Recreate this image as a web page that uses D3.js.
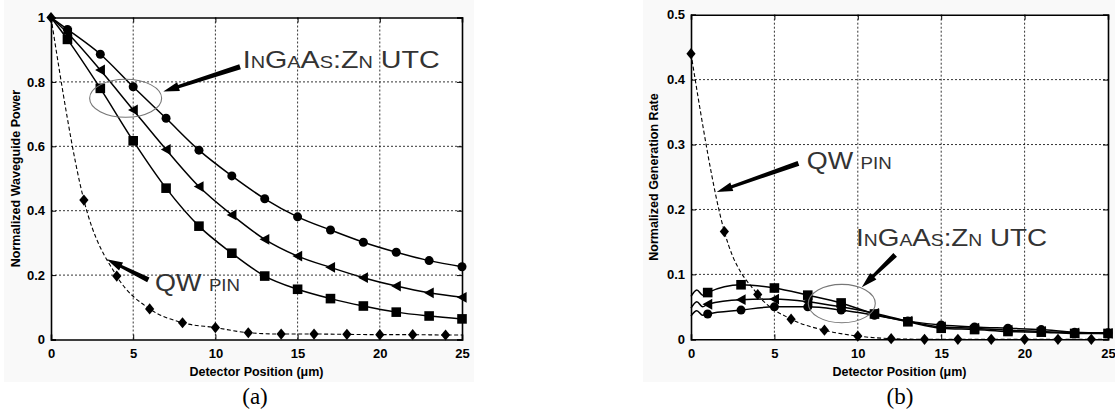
<!DOCTYPE html>
<html>
<head>
<meta charset="utf-8">
<script src="https://cdn.jsdelivr.net/npm/d3@7"></script>
<style>
  body { margin: 0; background: #fff; }
  svg { display: block; }
</style>
</head>
<body>
<svg id="fig" width="1115" height="414"></svg>
<script>
// -------------------------------------------------------------
// Data
// -------------------------------------------------------------
// (a) normalized waveguide power
const posA = [0, 1, 3, 5, 7, 9, 11, 13, 15, 17, 19, 21, 23, 25];
const utcCircleA = [1, 0.963, 0.886, 0.785, 0.687, 0.588, 0.508, 0.437, 0.381, 0.340, 0.302, 0.271, 0.245, 0.226];
const utcTriangleA = [1, 0.952, 0.837, 0.713, 0.590, 0.475, 0.387, 0.311, 0.259, 0.224, 0.192, 0.166, 0.145, 0.131];
const utcSquareA = [1, 0.932, 0.780, 0.617, 0.470, 0.352, 0.268, 0.197, 0.156, 0.127, 0.104, 0.085, 0.073, 0.064];

const posQW = [0, 2, 4, 6, 8, 10, 12, 14, 16, 18, 20, 22, 24, 25];
const qwPinA = [1, 0.433, 0.197, 0.095, 0.052, 0.037, 0.021, 0.017, 0.017, 0.016, 0.015, 0.015, 0.014, 0.014];

// (b) normalized generation rate
const posB = [0, 0.35, 0.7, 1, 3, 5, 7, 9, 11, 13, 15, 17, 19, 21, 23, 25];
const utcSquareB = [0.066, 0.076, 0.068, 0.072, 0.084, 0.079, 0.068, 0.056, 0.039, 0.027, 0.017, 0.015, 0.012, 0.011, 0.009, 0.009];
const utcTriangleB = [0.048, 0.058, 0.050, 0.054, 0.061, 0.062, 0.058, 0.050, 0.040, 0.028, 0.019, 0.017, 0.014, 0.012, 0.010, 0.009];
const utcCircleB = [0.036, 0.044, 0.037, 0.039, 0.045, 0.050, 0.050, 0.045, 0.037, 0.028, 0.022, 0.019, 0.017, 0.015, 0.011, 0.010];
const qwPinB = [0.44, 0.166, 0.069, 0.031, 0.014, 0.005, 0.001, 0, 0, 0, 0, 0, 0, 0];

const xTicks = [0, 5, 10, 15, 20, 25];
const yTicksA = [0, 0.2, 0.4, 0.6, 0.8, 1];
const yTicksB = [0, 0.1, 0.2, 0.3, 0.4, 0.5];

// -------------------------------------------------------------
// Panel configs
// -------------------------------------------------------------
const PANELS = [
  {
    id: "a",
    left: 51, right: 462, top: 17.5, bottom: 339.5,
    yMax: 1, yTicks: yTicksA,
    yLabel: "Normalized Waveguide Power",
    yLabelX: 16,
    tag: "(a)", tagX: 255,
    bg: [4, 0, 470, 382],
    series: [
      { pos: posA, vals: utcCircleA, marker: "circle", dashed: false },
      { pos: posA, vals: utcTriangleA, marker: "triangle", dashed: false },
      { pos: posA, vals: utcSquareA, marker: "square", dashed: false },
      { pos: posQW, vals: qwPinA, marker: "diamond", dashed: true }
    ],
    notes: [
      { text: "InGaAs:Zn UTC", x: 11.66, y: 0.843, width: 197, tail: [11.5, 0.847], tip: [6.83, 0.770] },
      { text: "QW pin", x: 6.33, y: 0.152, width: 85, tail: [5.92, 0.185], tip: [3.39, 0.249] }
    ],
    ellipse: { cx: 4.54, cy: 0.749, rx: 36, ry: 19 }
  },
  {
    id: "b",
    left: 691, right: 1108, top: 14.7, bottom: 339.3,
    yMax: 0.5, yTicks: yTicksB,
    yLabel: "Normalized Generation Rate",
    yLabelX: 654,
    tag: "(b)", tagX: 900,
    bg: [643, 0, 472, 382],
    series: [
      { pos: posB, vals: utcSquareB, marker: "square", dashed: false },
      { pos: posB, vals: utcTriangleB, marker: "triangle", dashed: false },
      { pos: posB, vals: utcCircleB, marker: "circle", dashed: false },
      { pos: posQW, vals: qwPinB, marker: "diamond", dashed: true }
    ],
    notes: [
      { text: "QW pin", x: 6.94, y: 0.263, width: 85, tail: [6.44, 0.271], tip: [1.54, 0.227] },
      { text: "InGaAs:Zn UTC", x: 9.9, y: 0.1437, width: 191, tail: [12.24, 0.130], tip: [10.24, 0.080] }
    ],
    ellipse: { cx: 9.04, cy: 0.0551, rx: 33.5, ry: 19.2 }
  }
];

// -------------------------------------------------------------
// Helpers
// -------------------------------------------------------------
function markerPath(type) {
  if (type === "circle") return "M4.5,0A4.5,4.5 0 1,1 -4.5,0A4.5,4.5 0 1,1 4.5,0Z";
  if (type === "square") return "M-4.8,-4.8H4.8V4.8H-4.8Z";
  if (type === "triangle") return "M-5.2,0L4.6,-5.4L4.6,5.4Z";
  return "M0,-5.6L4.6,0L0,5.6L-4.6,0Z"; // diamond
}

function tickFmt(d) {
  if (d === 0) return "0";
  if (d === 1) return "1";
  return d3.format(".1f")(d);
}

// thick wedge-style arrow from tail to tip (pixel coords)
function arrowPath(t, p) {
  const dx = p[0] - t[0], dy = p[1] - t[1];
  const len = Math.hypot(dx, dy);
  const ux = dx / len, uy = dy / len;
  const nx = -uy, ny = ux;
  const headLen = 16, headW = 4.5, tailW = 2.6, neckW = 1.6;
  const bx = p[0] - ux * headLen, by = p[1] - uy * headLen;
  const pts = [
    [t[0] + nx * tailW, t[1] + ny * tailW],
    [bx + nx * neckW, by + ny * neckW],
    [bx + nx * headW, by + ny * headW],
    p,
    [bx - nx * headW, by - ny * headW],
    [bx - nx * neckW, by - ny * neckW],
    [t[0] - nx * tailW, t[1] - ny * tailW]
  ];
  return "M" + pts.map(q => q.join(",")).join("L") + "Z";
}

// -------------------------------------------------------------
// Draw
// -------------------------------------------------------------
const svg = d3.select("#fig");

PANELS.forEach(cfg => {
  const g = svg.append("g").attr("class", "panel-" + cfg.id);

  g.append("rect")
    .attr("x", cfg.bg[0]).attr("y", cfg.bg[1])
    .attr("width", cfg.bg[2]).attr("height", cfg.bg[3])
    .attr("fill", "#f9f9f9");

  const x = d3.scaleLinear().domain([0, 25]).range([cfg.left, cfg.right]);
  const y = d3.scaleLinear().domain([0, cfg.yMax]).range([cfg.bottom, cfg.top]);

  g.append("rect")
    .attr("x", cfg.left).attr("y", cfg.top)
    .attr("width", cfg.right - cfg.left).attr("height", cfg.bottom - cfg.top)
    .attr("fill", "#fff");

  // dotted grid
  g.append("g")
    .selectAll("line.gx")
    .data(xTicks.slice(1, -1))
    .join("line")
    .attr("x1", d => x(d)).attr("x2", d => x(d))
    .attr("y1", cfg.top).attr("y2", cfg.bottom)
    .attr("stroke", "#000").attr("stroke-width", 0.8)
    .attr("stroke-dasharray", "2,2");

  g.append("g")
    .selectAll("line.gy")
    .data(cfg.yTicks.slice(1, -1))
    .join("line")
    .attr("x1", cfg.left).attr("x2", cfg.right)
    .attr("y1", d => y(d)).attr("y2", d => y(d))
    .attr("stroke", "#000").attr("stroke-width", 0.8)
    .attr("stroke-dasharray", "2,2");

  // axes (inward ticks on all four sides)
  const xAxis = g.append("g")
    .attr("transform", `translate(0,${cfg.bottom})`)
    .call(d3.axisBottom(x).tickValues(xTicks).tickSize(-5).tickPadding(9).tickFormat(d3.format("d")));
  const yAxis = g.append("g")
    .attr("transform", `translate(${cfg.left},0)`)
    .call(d3.axisLeft(y).tickValues(cfg.yTicks).tickSize(-5).tickPadding(6).tickFormat(tickFmt));
  g.append("g")
    .attr("transform", `translate(0,${cfg.top})`)
    .call(d3.axisTop(x).tickValues(xTicks).tickSize(-5).tickFormat(""));
  g.append("g")
    .attr("transform", `translate(${cfg.right},0)`)
    .call(d3.axisRight(y).tickValues(cfg.yTicks).tickSize(-5).tickFormat(""));

  g.selectAll(".domain").attr("stroke", "#000").attr("stroke-width", 1.6);
  g.selectAll(".tick line").attr("stroke", "#000").attr("stroke-width", 1);
  [xAxis, yAxis].forEach(ax => ax.selectAll("text")
    .attr("fill", "#000")
    .style("font-family", "'Liberation Sans', Arial, sans-serif")
    .style("font-weight", "bold")
    .style("font-size", "13px"));

  // series
  const line = d3.line()
    .x(d => x(d[0]))
    .y(d => y(d[1]))
    .curve(d3.curveMonotoneX);

  cfg.series.forEach(s => {
    const pts = s.pos.map((p, i) => [p, s.vals[i]]);
    g.append("path")
      .datum(pts)
      .attr("d", line)
      .attr("fill", "none")
      .attr("stroke", "#000")
      .attr("stroke-width", s.dashed ? 1.1 : 1.5)
      .attr("stroke-dasharray", s.dashed ? "4,2.5" : null);

    const marked = pts.filter(d => Number.isInteger(d[0]) && (s.dashed ? d[0] % 2 === 0 : d[0] % 2 === 1));
    g.selectAll(null)
      .data(marked)
      .join("path")
      .attr("transform", d => `translate(${x(d[0])},${y(d[1])})`)
      .attr("d", markerPath(s.marker))
      .attr("fill", "#000");
  });

  // ellipse around the UTC curves
  g.append("ellipse")
    .attr("cx", x(cfg.ellipse.cx)).attr("cy", y(cfg.ellipse.cy))
    .attr("rx", cfg.ellipse.rx).attr("ry", cfg.ellipse.ry)
    .attr("fill", "none")
    .attr("stroke", "#777")
    .attr("stroke-width", 1.1);

  // annotations
  cfg.notes.forEach(n => {
    g.append("path")
      .attr("d", arrowPath([x(n.tail[0]), y(n.tail[1])], [x(n.tip[0]), y(n.tip[1])]))
      .attr("fill", "#000");
    g.append("text")
      .attr("x", x(n.x)).attr("y", y(n.y))
      .attr("textLength", n.width)
      .attr("lengthAdjust", "spacingAndGlyphs")
      .style("font-family", "'Liberation Sans', Arial, sans-serif")
      .style("font-size", "24.5px")
      .style("font-variant", "small-caps")
      .attr("fill", "#333")
      .text(n.text);
  });

  // axis titles
  g.append("text")
    .attr("x", (cfg.left + cfg.right) / 2)
    .attr("y", 376)
    .attr("text-anchor", "middle")
    .style("font-family", "'Liberation Sans', Arial, sans-serif")
    .style("font-weight", "bold")
    .style("font-size", "12.5px")
    .text("Detector Position (\u03bcm)");

  g.append("text")
    .attr("transform", `translate(${cfg.yLabelX},${(cfg.top + cfg.bottom) / 2}) rotate(-90)`)
    .attr("text-anchor", "middle")
    .attr("dy", "0.35em")
    .style("font-family", "'Liberation Sans', Arial, sans-serif")
    .style("font-weight", "bold")
    .style("font-size", "12.5px")
    .text(cfg.yLabel);

  // panel tag
  svg.append("text")
    .attr("x", cfg.tagX).attr("y", 404)
    .attr("text-anchor", "middle")
    .style("font-family", "'Liberation Serif', 'Times New Roman', serif")
    .style("font-size", "23px")
    .text(cfg.tag);
});
</script>
</body>
</html>
